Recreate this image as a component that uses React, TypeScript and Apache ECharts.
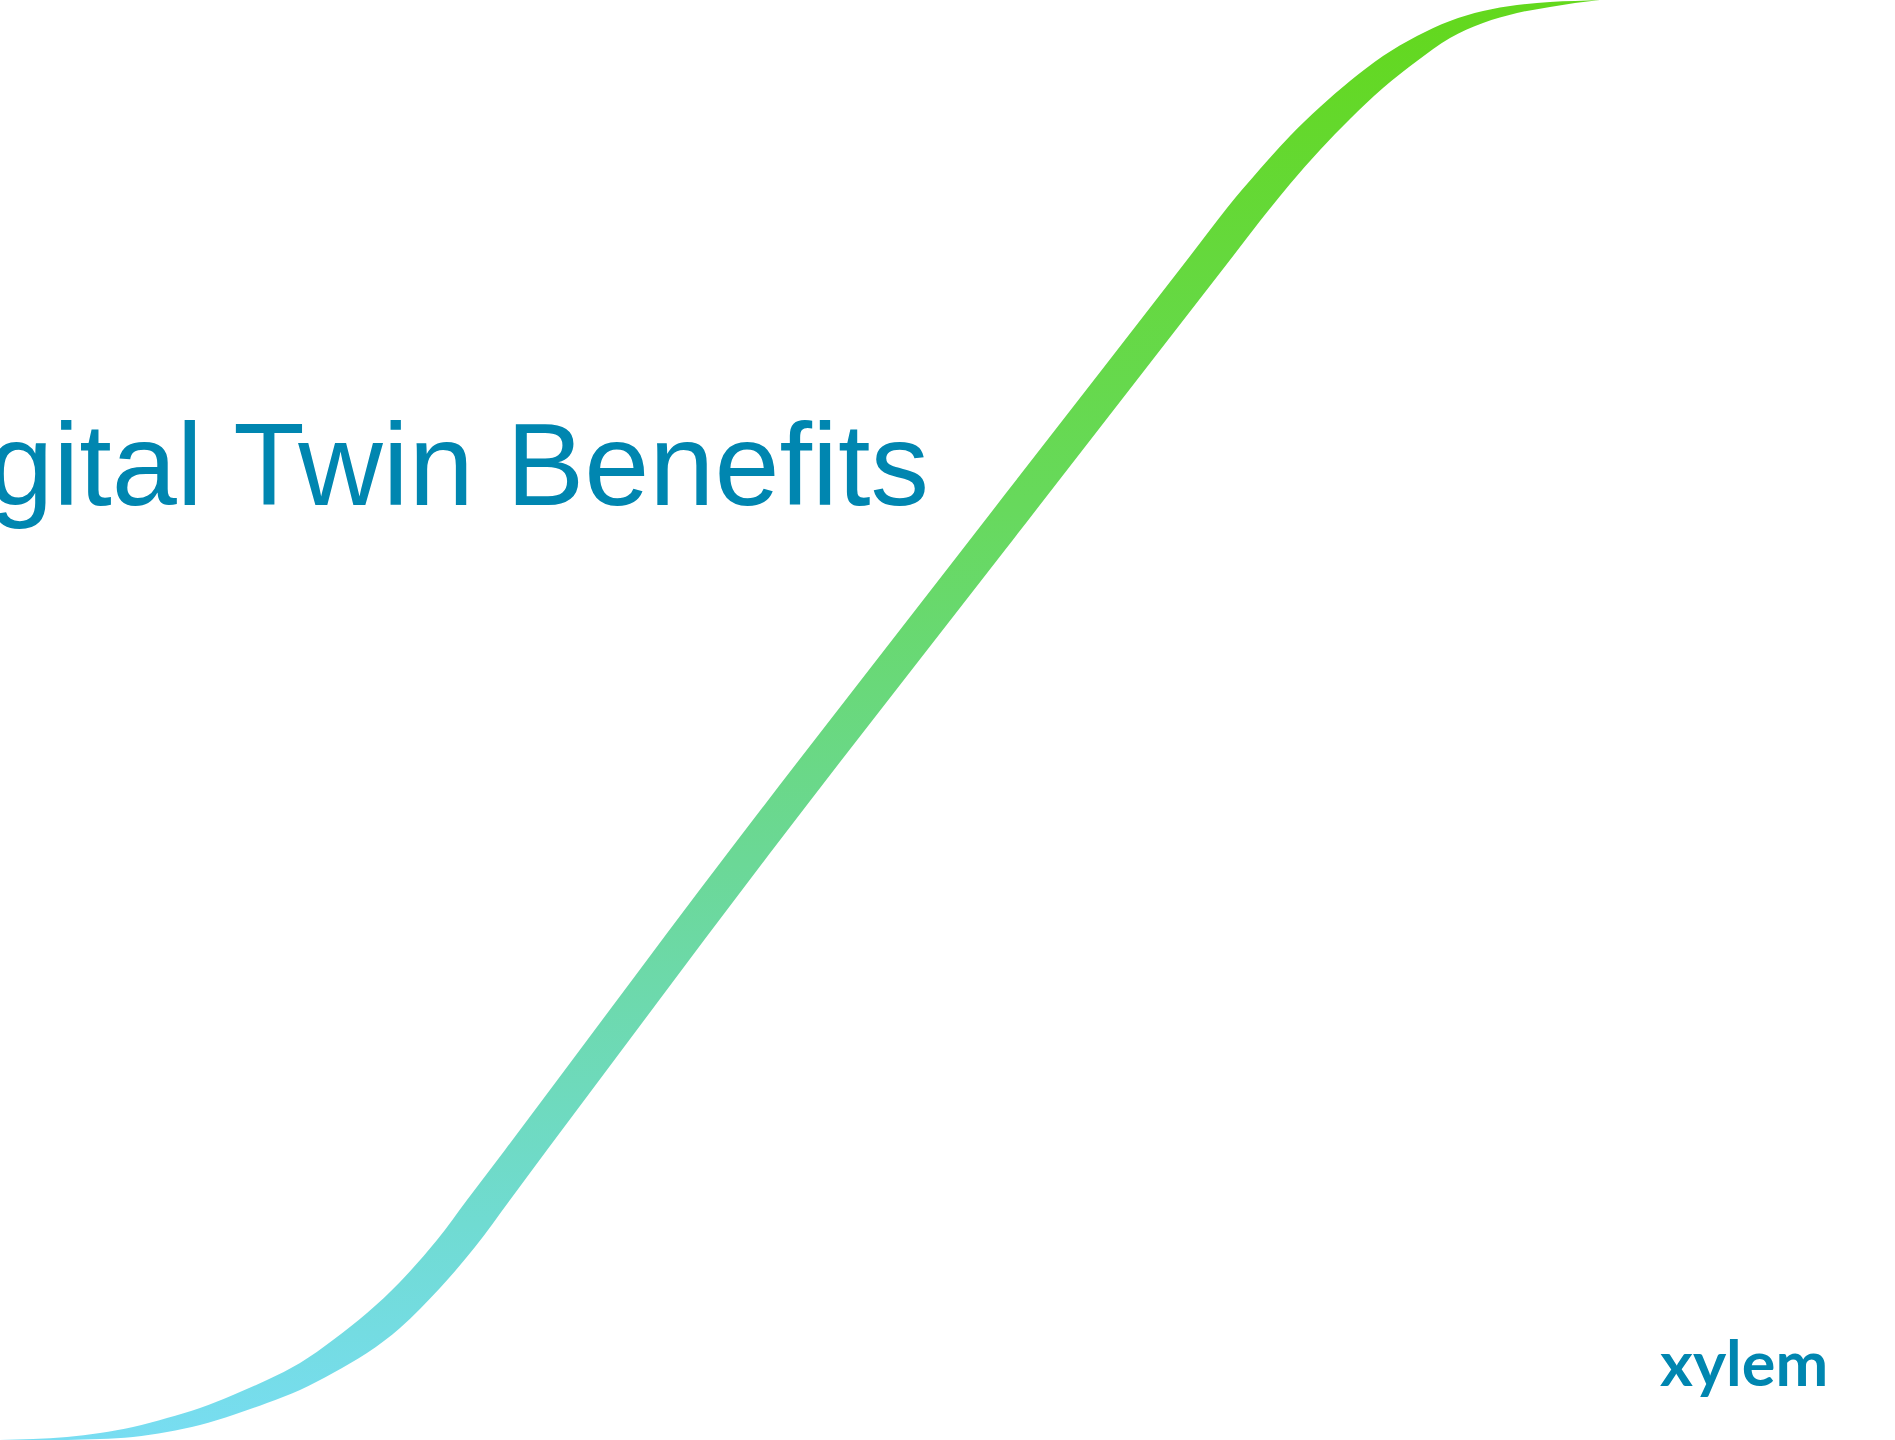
import React, { useEffect, useRef } from "react";
import * as echarts from "echarts";

// Slide size (px)
const PAGE_W = 1895;
const PAGE_H = 1440;

// Texts
const titleText = "Digital Twin Benefits";
const logoText = "xylem";

// Ribbon outline, upper/left edge from top-right tip down to bottom-left tip
const ribbonUpperEdge: [number, number][] = [
  [1600, 0], [1550, 2], [1517, 5], [1483, 11], [1450, 21], [1417, 36], [1383, 56],
  [1350, 81], [1320, 107], [1290, 136], [1260, 169], [1227, 208],
  [1187, 260], [962, 550], [730, 850], [505, 1150], [467, 1200], [437, 1240],
  [400, 1282], [367, 1313], [333, 1340], [300, 1363], [267, 1380], [233, 1395],
  [200, 1408], [167, 1418], [133, 1427], [100, 1433], [67, 1437], [33, 1439], [0, 1440],
];

// Ribbon outline, lower/right edge from bottom-left tip up to top-right tip
const ribbonLowerEdge: [number, number][] = [
  [0, 1441], [67, 1440], [100, 1439], [133, 1437], [167, 1432], [200, 1425],
  [233, 1415], [267, 1403], [300, 1390], [333, 1373], [367, 1353], [400, 1328],
  [440, 1288], [475, 1247], [510, 1200], [547, 1150], [777, 844], [1005, 550], [1230, 260],
  [1260, 221], [1290, 184], [1320, 150], [1350, 119], [1383, 88], [1417, 61],
  [1450, 38], [1483, 23], [1517, 13], [1550, 7], [1575, 3], [1600, 0],
];

// Ribbon gradient (top -> bottom)
const gradientOffsets = [0, 0.35, 0.6, 0.85, 1];
const gradientColors = ["#63d81c", "#67d95c", "#6bd897", "#70dbd2", "#78ddf2"];

const BRAND = "#0086b0";

// Smooth curve through the given pixel points (length-scaled cubic Hermite as Beziers)
function curveThrough(pts: number[][], start: boolean): string {
  const unit = (a: number[], b: number[]) => {
    const dx = b[0] - a[0];
    const dy = b[1] - a[1];
    const l = Math.hypot(dx, dy) || 1;
    return [dx / l, dy / l];
  };
  let d = start ? `M${pts[0][0]},${pts[0][1]}` : `L${pts[0][0]},${pts[0][1]}`;
  for (let i = 0; i < pts.length - 1; i++) {
    const p0 = pts[Math.max(0, i - 1)];
    const p1 = pts[i];
    const p2 = pts[i + 1];
    const p3 = pts[Math.min(pts.length - 1, i + 2)];
    const len = Math.hypot(p2[0] - p1[0], p2[1] - p1[1]) / 3;
    const t1 = unit(p0, p2);
    const t2 = unit(p1, p3);
    const c1x = p1[0] + t1[0] * len;
    const c1y = p1[1] + t1[1] * len;
    const c2x = p2[0] - t2[0] * len;
    const c2y = p2[1] - t2[1] * len;
    d += ` C${c1x.toFixed(2)},${c1y.toFixed(2)} ${c2x.toFixed(2)},${c2y.toFixed(2)} ${p2[0].toFixed(2)},${p2[1].toFixed(2)}`;
  }
  return d;
}

export default function App() {
  const ref = useRef<HTMLDivElement>(null);

  useEffect(() => {
    if (!ref.current) return;
    document.body.style.margin = "0";
    const chart = echarts.init(ref.current, undefined, { renderer: "svg" });

    chart.setOption({
      animation: false,
      backgroundColor: "#ffffff",
      grid: { left: 0, right: 0, top: 0, bottom: 0 },
      xAxis: { type: "value", min: 0, max: PAGE_W, show: false },
      yAxis: { type: "value", min: 0, max: PAGE_H, inverse: true, show: false },
      series: [
        {
          type: "custom",
          coordinateSystem: "cartesian2d",
          silent: true,
          clip: false,
          data: [[0, 0]],
          renderItem: (params: any, api: any) => {
            const up = ribbonUpperEdge.map((p) => api.coord(p));
            const lo = ribbonLowerEdge.map((p) => api.coord(p));
            const d = curveThrough(up, true) + " " + curveThrough(lo, false) + " Z";
            return {
              type: "path",
              shape: { pathData: d },
              style: {
                fill: {
                  type: "linear",
                  x: 0,
                  y: 0,
                  x2: 0,
                  y2: 1,
                  colorStops: gradientOffsets.map((o, i) => ({ offset: o, color: gradientColors[i] })),
                },
                stroke: "none",
              },
            };
          },
        },
      ],
      graphic: [
        {
          type: "text",
          x: 929,
          y: 464,
          style: {
            text: titleText,
            fill: BRAND,
            font: '117px "Liberation Sans", Arial, sans-serif',
            align: "right",
            verticalAlign: "middle",
          },
        },
        {
          type: "text",
          x: 1660,
          y: 1361,
          style: {
            text: logoText,
            fill: BRAND,
            font: 'bold 63px Lato, "Noto Sans", sans-serif',
            align: "left",
            verticalAlign: "middle",
          },
        },
      ],
    });

    return () => chart.dispose();
  }, []);

  return (
    <div
      ref={ref}
      style={{ position: "fixed", left: 0, top: 0, width: PAGE_W, height: PAGE_H }}
    />
  );
}
